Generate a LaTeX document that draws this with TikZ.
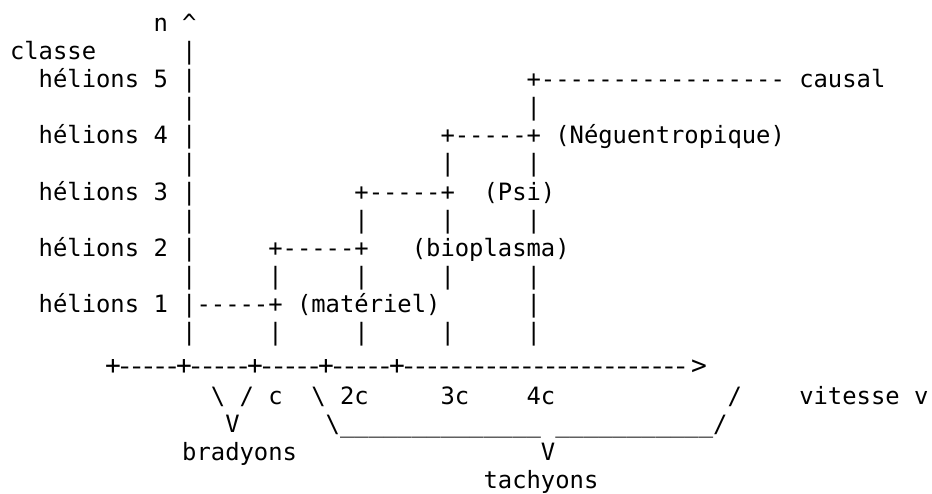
\documentclass[tikz,border=0pt]{standalone}
\usepackage{fontspec}
\usepackage{graphicx}
\setmonofont{DejaVu Sans Mono}
\tikzset{
  asc/.style={inner sep=0pt, outer sep=0pt, anchor=base west,
    font=\ttfamily\fontsize{23.84}{28}\selectfont},
  axischar/.style={inner sep=0pt, outer sep=0pt, anchor=base,
    font=\ttfamily\fontsize{23.84}{28}\selectfont},
}
% place a piece of text at a character column and a text line
\newcommand\asctext[3]{%
  \pgfmathsetmacro\ascx{10+#1*14.35}%
  \pgfmathsetmacro\ascy{#2<12 ? 31.6+28.07*#2 : 40.9+27.95*#2}%
  \node[asc] (t#2c#1) at (\ascx,\ascy) {#3};}
% one character cell of the horizontal axis
\newcommand\axcell[1]{\makebox[11.4pt]{#1}}
\begin{document}
\begin{tikzpicture}[x=1pt,y=-1pt]
\useasboundingbox (0,0) rectangle (932,494);
% vertical axis and class labels
\asctext{10}{0}{n \textasciicircum}
\asctext{0}{1}{classe}
\asctext{12}{1}{|}
\asctext{2}{2}{hélions 5 |}
\asctext{36}{2}{+----------------- causal}
\asctext{12}{3}{|}
\asctext{36}{3}{|}
\asctext{2}{4}{hélions 4 |}
\asctext{30}{4}{+-----+ (Néguentropique)}
\foreach \c in {12,30,36} {\asctext{\c}{5}{|}}
\asctext{2}{6}{hélions 3 |}
\asctext{24}{6}{+-----+}
\asctext{33}{6}{(Psi)}
\foreach \c in {12,24,30,36} {\asctext{\c}{7}{|}}
\asctext{2}{8}{hélions 2 |}
\asctext{18}{8}{+-----+}
\asctext{28}{8}{(bioplasma)}
\foreach \c in {12,18,24,30,36} {\asctext{\c}{9}{|}}
\asctext{2}{10}{hélions 1 |-----+ (matériel)}
\asctext{36}{10}{|}
\foreach \c in {12,18,24,30,36} {\asctext{\c}{11}{|}}
% horizontal axis, set on a tighter pitch than the other lines
\foreach \i in {0,...,48} {
  \pgfmathtruncatemacro\isplus{(mod(\i,6)==0 && \i<25) ? 1 : 0}
  \ifnum\isplus=1
    \node[axischar] (ax\i) at ({113+\i*11.83},374) {\axcell{\scalebox{1.1}{+}}};
  \else
    \node[axischar] (ax\i) at ({113+\i*11.83},374) {\axcell{\scalebox{1.2}[1]{-}}};
  \fi
}
\node[axischar] (axtip) at (699,374) {\axcell{\scalebox{1.1}{>}}};
% speed marks and braces
\asctext{14}{13}{\textbackslash{} / c}
\asctext{21}{13}{\textbackslash{} 2c}
\asctext{30}{13}{3c}
\asctext{36}{13}{4c}
\asctext{50}{13}{/}
\asctext{55}{13}{vitesse v}
\asctext{15}{14}{V}
\asctext{22}{14}{\textbackslash\_\_\_\_\_\_\_\_\_\_\_\_\_\_}
\asctext{38}{14}{\_\_\_\_\_\_\_\_\_\_\_/}
\asctext{12}{15}{bradyons}
\asctext{37}{15}{V}
\asctext{33}{16}{tachyons}
\end{tikzpicture}
\end{document}
